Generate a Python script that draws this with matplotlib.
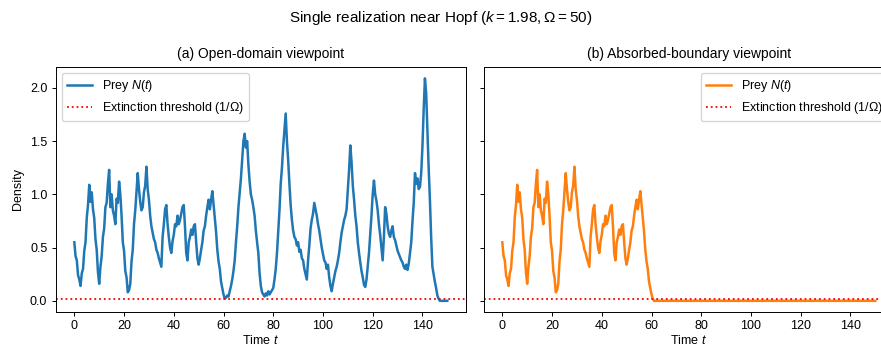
import numpy as np
import matplotlib
matplotlib.use("Agg")
import matplotlib.pyplot as plt

plt.rcParams['font.family'] = ['Liberation Sans', 'DejaVu Sans']
plt.rcParams['mathtext.fontset'] = 'custom'
plt.rcParams['mathtext.rm'] = 'Liberation Sans'
plt.rcParams['mathtext.it'] = 'Liberation Sans:italic'
plt.rcParams['axes.linewidth'] = 0.7
plt.rcParams['xtick.major.width'] = 0.7
plt.rcParams['ytick.major.width'] = 0.7
plt.rcParams['xtick.major.size'] = 3.0
plt.rcParams['ytick.major.size'] = 3.0
plt.rcParams['xtick.labelsize'] = 9
plt.rcParams['ytick.labelsize'] = 9
plt.rcParams['axes.labelsize'] = 9

# 読み取った軌跡 (0.5 刻み, t = 0 .. 150)
dt = 0.5
prey = [
    0.55, 0.42, 0.38, 0.24, 0.2, 0.14, 0.26, 0.3, 0.47, 0.55,
    0.78, 0.9, 1.09, 0.93, 1.02, 0.86, 0.78, 0.58, 0.48, 0.27,
    0.16, 0.32, 0.42, 0.6, 0.68, 0.88, 0.92, 1.1, 1.23, 0.88,
    1.0, 0.85, 0.8, 0.72, 0.96, 0.92, 1.12, 1.0, 0.8, 0.55,
    0.47, 0.28, 0.22, 0.08, 0.1, 0.16, 0.37, 0.48, 0.72, 0.85,
    1.02, 1.2, 1.05, 0.93, 0.85, 0.88, 1.02, 1.08, 1.26, 1.05,
    0.95, 0.8, 0.7, 0.64, 0.58, 0.55, 0.48, 0.45, 0.4, 0.36,
    0.32, 0.6, 0.72, 0.86, 0.9, 0.72, 0.6, 0.5, 0.45, 0.56,
    0.62, 0.72, 0.7, 0.8, 0.72, 0.76, 0.82, 0.88, 0.9, 0.7,
    0.45, 0.38, 0.55, 0.6, 0.67, 0.62, 0.7, 0.72, 0.55, 0.4,
    0.34, 0.4, 0.48, 0.55, 0.66, 0.7, 0.8, 0.88, 0.95, 0.86,
    0.95, 1.03, 0.9, 0.78, 0.65, 0.48, 0.37, 0.3, 0.18, 0.12,
    0.06, 0.02, 0.03, 0.05, 0.04, 0.09, 0.14, 0.2, 0.28, 0.38,
    0.55, 0.7, 0.88, 1.02, 1.15, 1.32, 1.5, 1.57, 1.44, 1.5,
    1.28, 1.12, 1.0, 0.95, 0.88, 0.8, 0.66, 0.55, 0.45, 0.26,
    0.14, 0.08, 0.06, 0.04, 0.07, 0.05, 0.09, 0.06, 0.08, 0.1,
    0.12, 0.2, 0.3, 0.45, 0.65, 0.85, 1.1, 1.25, 1.45, 1.6,
    1.76, 1.5, 1.32, 1.1, 0.9, 0.76, 0.66, 0.6, 0.58, 0.52,
    0.55, 0.46, 0.48, 0.4, 0.38, 0.3, 0.25, 0.2, 0.38, 0.52,
    0.68, 0.76, 0.82, 0.92, 0.86, 0.8, 0.72, 0.66, 0.58, 0.5,
    0.44, 0.38, 0.36, 0.3, 0.34, 0.22, 0.14, 0.09, 0.16, 0.22,
    0.28, 0.32, 0.38, 0.45, 0.55, 0.64, 0.7, 0.76, 0.8, 0.86,
    1.05, 1.23, 1.46, 1.3, 1.08, 0.95, 0.8, 0.7, 0.55, 0.45,
    0.36, 0.28, 0.22, 0.15, 0.13, 0.2, 0.32, 0.45, 0.62, 0.8,
    1.0, 1.13, 1.0, 0.94, 0.85, 0.72, 0.62, 0.5, 0.38, 0.6,
    0.88, 0.82, 0.7, 0.63, 0.6, 0.66, 0.7, 0.6, 0.57, 0.52,
    0.47, 0.44, 0.41, 0.38, 0.36, 0.32, 0.3, 0.34, 0.29, 0.35,
    0.45, 0.55, 0.75, 0.92, 1.2, 1.1, 1.15, 1.05, 1.07, 1.2,
    1.45, 1.8, 2.09, 1.95, 1.6, 1.25, 0.95, 0.6, 0.32, 0.25,
    0.18, 0.12, 0.05, 0.02, 0.0, 0.0, 0.0, 0.0, 0.0, 0.0,
    0.0,
]
t_absorb = 60.5   # 吸収境界に到達した時刻
omega = 50

prey = np.array(prey)
t = np.arange(len(prey)) * dt
prey_abs = np.where(t <= t_absorb, prey, 0.0)
threshold = 1.0 / omega

fig = plt.figure(figsize=(8.81, 3.49), dpi=100)
ax1 = fig.add_axes([0.0632, 0.106, 0.4657, 0.703])
ax2 = fig.add_axes([0.549, 0.106, 0.4657, 0.703], sharey=ax1)

thr_label = r'Extinction threshold ($1/\Omega$)'

ax1.plot(t, prey, color='C0', lw=1.8, label='Prey $N(t)$')
ax1.axhline(threshold, color='red', ls=':', lw=1.3, label=thr_label)
ax1.set_title('(a) Open-domain viewpoint', fontsize=10)
ax1.set_xlabel('Time $t$', labelpad=1)
ax1.set_ylabel('Density')
ax1.legend(loc='upper left', fontsize=9)

ax2.plot(t, prey_abs, color='C1', lw=1.8, label='Prey $N(t)$')
ax2.axhline(threshold, color='red', ls=':', lw=1.3, label=thr_label)
ax2.set_title('(b) Absorbed-boundary viewpoint', fontsize=10)
ax2.set_xlabel('Time $t$', labelpad=1)
ax2.tick_params(labelleft=False)
ax2.legend(loc='upper right', fontsize=9)

for ax in (ax1, ax2):
    ax.set_xlim(-7.5, 157.5)
    ax.set_xticks(np.arange(0, 141, 20))
    ax.tick_params(pad=3)
ax1.set_ylim(-0.105, 2.2)

fig.suptitle(r'Single realization near Hopf ($k = 1.98, \Omega = 50$)', fontsize=11, y=0.975)
fig.savefig('out.png', dpi=100)
